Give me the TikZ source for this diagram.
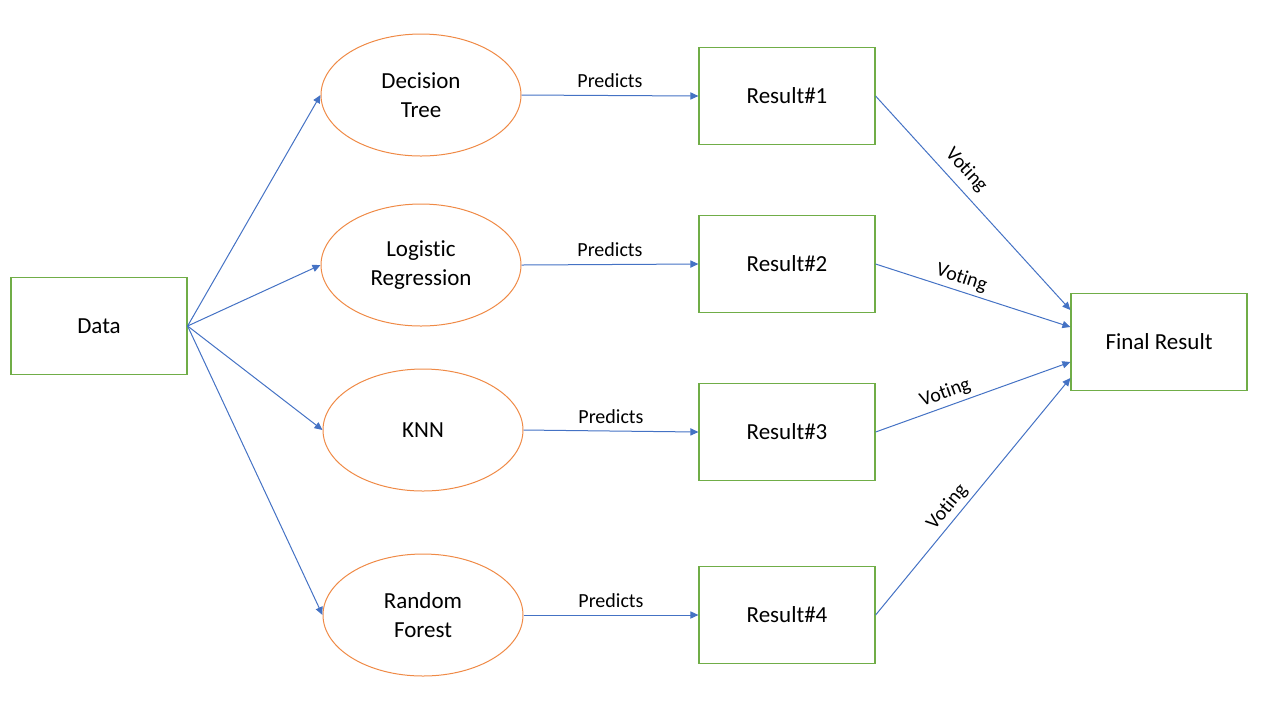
\documentclass[tikz,border=0pt]{standalone}
\usepackage{fontspec}
\setmainfont{Carlito}[RawFeature={-liga;-clig;-calt;-dlig}]
\usetikzlibrary{shapes.geometric, arrows.meta, positioning}

\definecolor{linkBlue}{HTML}{4472C4}
\definecolor{boxGreen}{HTML}{70AD47}
\definecolor{ovalOrange}{HTML}{ED7D31}

\begin{document}
\begin{tikzpicture}[
    x=0.5pt, y=-0.5pt,
    resultBox/.style={rectangle, draw=boxGreen, line width=0.6pt, minimum width=88pt, minimum height=48.5pt, inner sep=0pt, font=\fontsize{11.5}{14.5}\selectfont, align=center}, % 绿色矩形框
    modelOval/.style={ellipse, draw=ovalOrange!90, line width=0.5pt, minimum width=100pt, minimum height=61pt, inner sep=0pt, font=\fontsize{11.5}{14.5}\selectfont, align=center}, % 橙色椭圆（模型）
    link/.style={draw=linkBlue, line width=0.5pt, -{Triangle[length=4pt, width=3.6pt]}}, % 蓝色箭头
    tag/.style={font=\fontsize{10}{12}\selectfont, text=black, inner sep=2pt}, % 连线上的小字
]
    \useasboundingbox (0,0) rectangle (1280,720);

    % 1. 左侧数据与四个模型
    \node[resultBox] (data) at (99,326) {Data};
    \node[modelOval] (tree)   at (421,95)  {Decision\\Tree};
    \node[modelOval] (logreg) at (421,265) {Logistic\\Regression};
    \node[modelOval] (knn)    at (423,430) {KNN};
    \node[modelOval] (forest) at (423,615) {Random\\Forest};

    % 2. 每个模型的预测结果与最终结果
    \node[resultBox] (res1) at (787,96)  {Result\#1};
    \node[resultBox] (res2) at (787,264) {Result\#2};
    \node[resultBox] (res3) at (787,432) {Result\#3};
    \node[resultBox] (res4) at (787,615) {Result\#4};
    \node[resultBox] (final) at (1159,342) {Final Result};

    % 3. 数据分发到各模型
    \foreach \m in {tree, logreg, knn, forest}
        \draw[link] (data.east) -- (\m.west);

    % 4. 模型给出预测
    \draw[link] (tree.east)   -- node[tag, above=1.5pt] {Predicts} (res1.west);
    \draw[link] (logreg.east) -- node[tag, above=1.5pt] {Predicts} (res2.west);
    \draw[link] (knn.east)    -- node[tag, above=1.5pt] {Predicts} (res3.west);
    \draw[link] (forest.east) -- node[tag, above=1.5pt] {Predicts} (res4.west);

    % 5. 投票得到最终结果
    \draw[link] (res1.east) -- node[tag, pos=0.4, above=2pt, sloped] {Voting} ([yshift=16pt]final.west);
    \draw[link] (res2.east) -- node[tag, pos=0.42, above, sloped] {Voting} ([yshift=7.5pt]final.west);
    \draw[link] (res3.east) -- node[tag, pos=0.38, above, sloped] {Voting} ([yshift=-10pt]final.west);
    \draw[link] (res4.east) -- node[tag, pos=0.42, above, sloped] {Voting} ([yshift=-18pt]final.west);
\end{tikzpicture}
\end{document}
